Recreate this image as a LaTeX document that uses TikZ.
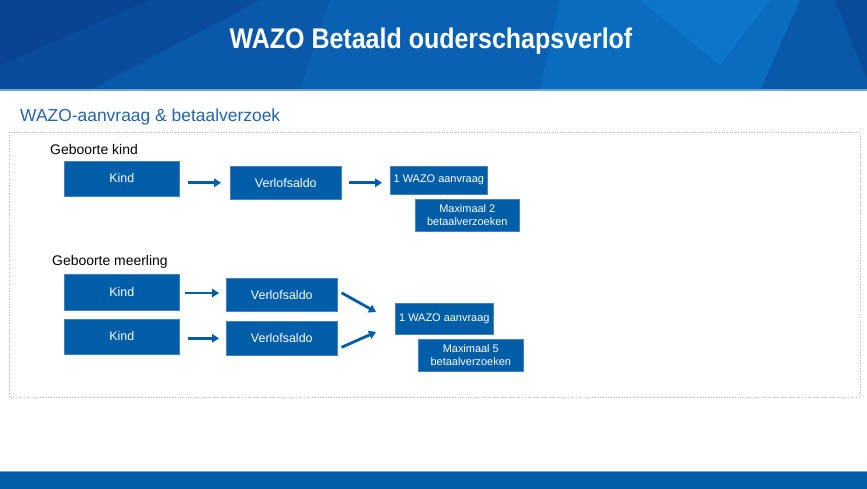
\documentclass[tikz,border=0pt]{standalone}
\usepackage{fontspec}
\setmainfont{Liberation Sans}
\usetikzlibrary{arrows.meta}
\definecolor{boxblue}{RGB}{0,93,168}
\definecolor{boxedge}{RGB}{70,130,195}
\definecolor{subblue}{RGB}{35,100,168}
\definecolor{hdbase}{RGB}{10,88,170}
\definecolor{hddark}{RGB}{9,76,155}
\definecolor{hddarker}{RGB}{8,68,145}
\definecolor{hdmid}{RGB}{10,96,178}
\definecolor{hdlight}{RGB}{10,108,190}
\definecolor{hdlighter}{RGB}{14,118,200}
\definecolor{hdline}{RGB}{110,165,220}
\definecolor{barblue}{RGB}{0,94,170}
\tikzset{
  bx/.style={fill=boxblue, draw=boxedge, line width=0.6bp, text=white, anchor=north west,
    inner sep=0pt, align=center, font=\fontsize{12.5}{14}\selectfont},
  bxs/.style={bx, font=\fontsize{11}{13}\selectfont},
  arr/.style={draw=boxblue, line width=2.8bp, -{Triangle[length=7bp,width=8.5bp]}},
}
\begin{document}
\begin{tikzpicture}[x=1bp,y=-1bp]
\useasboundingbox (0,0) rectangle (867,489);
\fill[white] (0,0) rectangle (867,489);
% header
\fill[hdbase] (0,0) rectangle (867,90);
\fill[hddark] (0,0) -- (260,0) -- (90,90) -- (0,90) -- cycle;
\fill[hddarker] (0,0) -- (150,0) -- (0,65) -- cycle;
\fill[hdmid] (330,0) -- (620,0) -- (560,90) -- (300,90) -- cycle;
\fill[hdlight] (560,0) -- (800,0) -- (760,90) -- (540,90) -- cycle;
\fill[hdlighter] (640,0) -- (770,0) -- (720,65) -- cycle;
\fill[hdbase] (800,0) -- (867,0) -- (867,90) -- (770,90) -- cycle;
\fill[hddark] (835,0) -- (867,0) -- (867,80) -- cycle;
\fill[hdline] (0,89) rectangle (867,91.5);
\node[text=white, xscale=0.88, font=\bfseries\fontsize{28.5}{32}\selectfont] (title) at (431,41) {WAZO Betaald ouderschapsverlof};
% subtitle
\node[anchor=west, text=subblue, font=\fontsize{17.5}{20}\selectfont, inner sep=0pt] (sub) at (20,117) {WAZO-aanvraag \& betaalverzoek};
% dotted frame
\draw[gray!60, dotted, line width=0.7bp] (9,132) rectangle (860,397);
% section 1
\node[anchor=west, font=\fontsize{14}{16}\selectfont, inner sep=0pt] (h1) at (50,150) {Geboorte kind};
\node[bx, minimum width=115bp, minimum height=35bp] (kind1) at (64,161) {\raisebox{1.5bp}{Kind}};
\node[bx, minimum width=111bp, minimum height=33bp] (verl1) at (230,166) {Verlofsaldo};
\node[bxs, minimum width=97bp, minimum height=28bp] (waz1) at (390,166) {1 WAZO aanvraag};
\node[bxs, minimum width=104bp, minimum height=32bp] (max1) at (415,199) {Maximaal 2\\betaalverzoeken};
\draw[arr, shorten <=8bp, shorten >=9bp] (kind1.east |- verl1.west) -- (verl1.west);
\draw[arr, shorten <=7bp, shorten >=8bp] (verl1.east) -- (verl1.east -| waz1.west);
% section 2
\node[anchor=west, font=\fontsize{14}{16}\selectfont, inner sep=0pt] (h2) at (52,262) {Geboorte meerling};
\node[bx, minimum width=115bp, minimum height=36bp] (kind2) at (64,274) {\raisebox{1.5bp}{Kind}};
\node[bx, minimum width=115bp, minimum height=35bp] (kind3) at (64,319) {\raisebox{1.5bp}{Kind}};
\node[bx, minimum width=111bp, minimum height=33bp] (verl2) at (226,278) {Verlofsaldo};
\node[bx, minimum width=111bp, minimum height=34bp] (verl3) at (226,321) {Verlofsaldo};
\node[bxs, minimum width=98bp, minimum height=31bp] (waz2) at (395,303) {1 WAZO aanvraag};
\node[bxs, minimum width=105bp, minimum height=32bp] (max2) at (418,339) {Maximaal 5\\betaalverzoeken};
\draw[arr, shorten <=5bp, shorten >=7bp] (kind2.east |- 0,293) -- (verl2.west |- 0,293);
\draw[arr, shorten <=8bp, shorten >=7bp] (kind3.east |- verl3.west) -- (verl3.west);
\coordinate (m1) at (376,312);
\coordinate (m2) at (376,332);
\draw[arr] ([shift={(4,-2)}]verl2.east) -- (m1);
\draw[arr] ([shift={(4,9)}]verl3.east) -- (m2);
% bottom bar
\fill[barblue] (0,471) rectangle (867,489);
\fill[hdline] (0,470.5) rectangle (867,472);
\end{tikzpicture}
\end{document}
